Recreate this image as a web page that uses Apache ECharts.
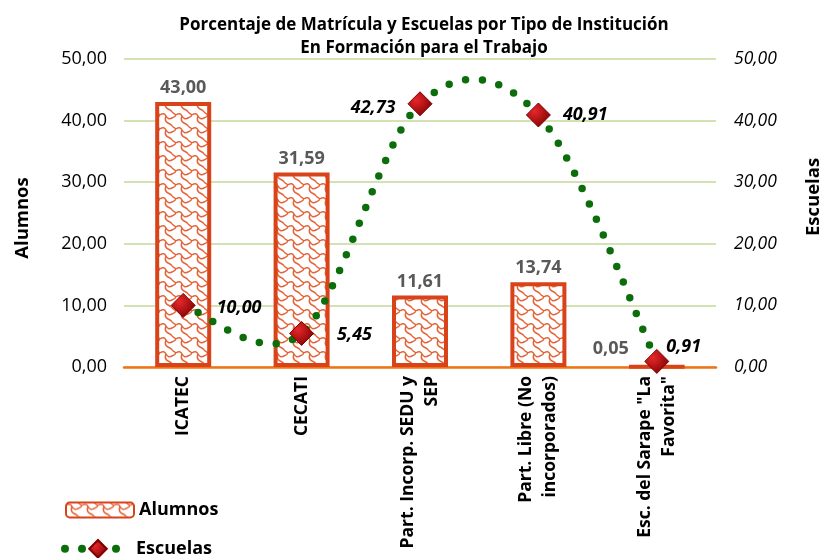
<!DOCTYPE html>
<html>
<head>
<meta charset="utf-8">
<script src="https://cdn.jsdelivr.net/npm/echarts@6/dist/echarts.min.js"></script>
<style>
  html, body { margin: 0; padding: 0; background: #fff; }
  #chart { width: 831px; height: 558px; }
</style>
</head>
<body>
<div id="chart"></div>
<script>
const categories = ['ICATEC', 'CECATI', 'Part. Incorp. SEDU y\nSEP', 'Part. Libre (No\nincorporados)', 'Esc. del Sarape "La\nFavorita"']
const alumnos = [43.00, 31.59, 11.61, 13.74, 0.05]
const escuelas = [10.00, 5.45, 42.73, 40.91, 0.91]
const escuelasLabelPos = ['right', 'right', 'left', 'right', 'right']
const axisTicks = [0, 10, 20, 30, 40, 50]

const fmt = v => Number(v).toFixed(2).replace('.', ',')

// scale-like pattern for the bars
function makePattern() {
  const c = document.createElement('canvas')
  c.width = 16
  c.height = 14
  const ctx = c.getContext('2d')
  ctx.fillStyle = '#fff'
  ctx.fillRect(0, 0, 16, 14)
  ctx.strokeStyle = '#e4643a'
  ctx.lineWidth = 1.5
  ctx.beginPath()
  ctx.moveTo(0, 3)
  ctx.quadraticCurveTo(4, 0, 6, 4)
  ctx.quadraticCurveTo(8, 8, 12, 6)
  ctx.quadraticCurveTo(15, 5, 16, 3)
  ctx.moveTo(6, 4)
  ctx.quadraticCurveTo(4, 9, 8, 11)
  ctx.quadraticCurveTo(12, 13, 12, 14)
  ctx.moveTo(12, 0)
  ctx.quadraticCurveTo(13, 1, 16, 3)
  ctx.stroke()
  return c
}
const pattern = { image: makePattern(), repeat: 'repeat' }

// Excel-style smoothed curve (cardinal spline through the points)
function curvePath(pts) {
  let d = 'M' + pts[0][0] + ',' + pts[0][1]
  for (let i = 0; i < pts.length - 1; i++) {
    const p0 = pts[Math.max(i - 1, 0)]
    const p1 = pts[i]
    const p2 = pts[i + 1]
    const p3 = pts[Math.min(i + 2, pts.length - 1)]
    const c1 = [p1[0] + (p2[0] - p0[0]) / 6, p1[1] + (p2[1] - p0[1]) / 6]
    const c2 = [p2[0] - (p3[0] - p1[0]) / 6, p2[1] - (p3[1] - p1[1]) / 6]
    d += 'C' + c1.join(',') + ' ' + c2.join(',') + ' ' + p2.join(',')
  }
  return d
}

const chart = echarts.init(document.getElementById('chart'))
const fontFamily = '"Open Sans", sans-serif'
const green = '#0b6e0b'

const options = {
  backgroundColor: '#fff',
  textStyle: { fontFamily: fontFamily },
  title: {
    text: 'Porcentaje de Matrícula y Escuelas por Tipo de Institución\nEn Formación para el Trabajo',
    left: 419,
    textAlign: 'center',
    top: 9,
    textStyle: { fontSize: 17, fontWeight: 'bold', color: '#000', lineHeight: 23, fontFamily: fontFamily }
  },
  grid: { left: 124, right: 112, top: 59, bottom: 191 },
  legend: [{
    left: 60,
    top: 496,
    itemWidth: 68,
    itemHeight: 15,
    textStyle: { fontSize: 18, fontWeight: 'bold', color: '#000' },
    data: ['Alumnos']
  }, {
    left: 56,
    top: 534,
    itemWidth: 66,
    itemHeight: 22,
    textStyle: { fontSize: 18, fontWeight: 'bold', color: '#000' },
    lineStyle: { color: green, width: 8, type: [0, 17], cap: 'round', opacity: 1 },
    data: ['Escuelas']
  }],
  xAxis: [{
    type: 'category',
    data: categories,
    axisLine: { lineStyle: { color: '#f47216', width: 2.5 } },
    axisTick: { show: false },
    axisLabel: {
      interval: 0,
      rotate: 90,
      margin: 9,
      fontSize: 17.5,
      fontWeight: 'bold',
      color: '#000',
      lineHeight: 24,
      align: 'right'
    }
  }],
  yAxis: [{
    type: 'value',
    min: 0,
    max: 50,
    interval: 10,
    name: 'Alumnos',
    nameLocation: 'middle',
    nameRotate: 90,
    nameGap: 92,
    nameTextStyle: { fontSize: 18.5, fontWeight: 'bold', color: '#000', padding: [0, 10, 0, 0] },
    axisLine: { show: false },
    axisTick: { show: false },
    axisLabel: { formatter: v => axisTicks.includes(v) ? fmt(v) : '', fontSize: 18, color: '#000', margin: 17 },
    splitLine: { lineStyle: { color: '#c4d89c', width: 1.5 } }
  }, {
    type: 'value',
    min: 0,
    max: 50,
    interval: 10,
    name: 'Escuelas',
    nameLocation: 'middle',
    nameRotate: 90,
    nameGap: 88,
    nameTextStyle: { fontSize: 18.5, fontWeight: 'bold', color: '#000', padding: [0, 0, 0, 32] },
    axisLine: { show: false },
    axisTick: { show: false },
    axisLabel: { formatter: v => fmt(v), fontSize: 17.5, fontStyle: 'italic', color: '#000', margin: 18 },
    splitLine: { show: false }
  }],
  series: [{
    name: 'Alumnos',
    type: 'bar',
    yAxisIndex: 0,
    barWidth: 56,
    itemStyle: { color: pattern, borderColor: '#d8431a', borderWidth: 4 },
    label: {
      show: true,
      position: 'top',
      distance: 5,
      formatter: p => fmt(p.value),
      fontSize: 18,
      fontWeight: 'bold',
      color: '#595959'
    },
    data: alumnos.map((v, i) => i === 4
      ? { value: v, label: { offset: [-46, -2] } }
      : v)
  }, {
    name: 'EscuelasCurve',
    type: 'custom',
    yAxisIndex: 1,
    silent: true,
    z: 3,
    data: escuelas.map((v, i) => [i, v]),
    renderItem: (params, api) => {
      if (params.dataIndex !== 0) return
      const pts = escuelas.map((v, i) => api.coord([i, v]))
      return {
        type: 'path',
        shape: { pathData: curvePath(pts) },
        style: { fill: 'none', stroke: green, lineWidth: 7.5, lineDash: [0, 17], lineCap: 'round' }
      }
    }
  }, {
    name: 'Escuelas',
    type: 'line',
    yAxisIndex: 1,
    symbol: 'diamond',
    symbolSize: [24, 24],
    z: 5,
    lineStyle: { opacity: 0 },
    itemStyle: {
      color: new echarts.graphic.RadialGradient(0.35, 0.35, 0.75, [
        { offset: 0, color: '#e8272a' },
        { offset: 1, color: '#7a0000' }
      ]),
      borderColor: '#800000',
      borderWidth: 1
    },
    label: {
      show: true,
      formatter: p => fmt(p.value),
      fontSize: 18,
      fontWeight: 'bold',
      fontStyle: 'italic',
      color: '#000',
      distance: 12
    },
    data: escuelas.map((v, i) => {
      const lab = { position: escuelasLabelPos[i] }
      if (i === 0) lab.offset = [9, 2]
      if (i === 1) lab.offset = [11, 1]
      if (i === 2) lab.offset = [0, 4]
      if (i === 4) lab.offset = [-15, -15]
      return { value: v, label: lab }
    })
  }]
}

chart.setOption(options)
</script>
</body>
</html>
